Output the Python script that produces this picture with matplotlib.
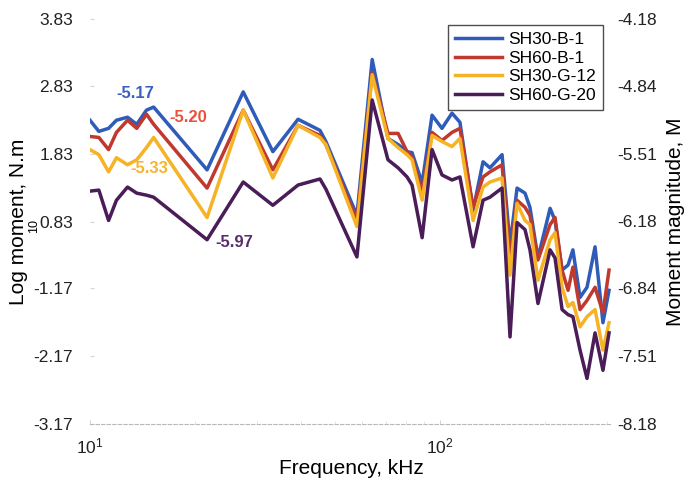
import numpy as np
import matplotlib
matplotlib.use('Agg')
import matplotlib.pyplot as plt

plt.rcParams['font.family'] = ['Liberation Sans', 'DejaVu Sans']
plt.rcParams['mathtext.fontset'] = 'custom'
plt.rcParams['mathtext.rm'] = 'Liberation Sans'
plt.rcParams['mathtext.it'] = 'Liberation Sans:italic'

# frequency (kHz) of each vertex
freq = [10.0, 10.6, 11.3, 11.9, 12.8, 13.6, 14.5, 15.2, 21.6, 27.4,
        33.3, 39.3, 45.4, 47.2, 57.9, 64.0, 71.0, 75.9, 80.5, 83.2,
        88.9, 94.9, 101.3, 108.2, 114.0, 124.3, 132.7, 138.9, 150.4, 158.5,
        166.0, 174.9, 180.7, 190.5, 206.3, 213.1, 223.2, 232.2, 239.7, 251.2,
        263.0, 277.3, 292.1, 304.0]

# moment magnitude M for each series
sh30_b1 = [-5.18, -5.29, -5.26, -5.18, -5.15, -5.22, -5.08, -5.05, -5.67, -4.90,
           -5.49, -5.17, -5.28, -5.39, -6.12, -4.58, -5.36, -5.42, -5.49, -5.50,
           -5.80, -5.13, -5.26, -5.11, -5.20, -6.07, -5.59, -5.65, -5.52, -6.41,
           -5.85, -5.90, -6.04, -6.54, -6.05, -6.17, -6.66, -6.61, -6.46, -6.93,
           -6.83, -6.43, -7.18, -6.86]
sh60_b1 = [-5.34, -5.35, -5.47, -5.30, -5.18, -5.26, -5.12, -5.22, -5.85, -5.08,
           -5.67, -5.23, -5.33, -5.42, -6.17, -4.71, -5.31, -5.31, -5.49, -5.54,
           -5.90, -5.30, -5.38, -5.30, -5.26, -6.04, -5.74, -5.69, -5.62, -6.54,
           -5.97, -6.04, -6.12, -6.56, -6.21, -6.14, -6.66, -6.86, -6.63, -7.05,
           -6.96, -6.83, -7.08, -6.66]
sh30_g12 = [-5.47, -5.52, -5.69, -5.55, -5.62, -5.57, -5.45, -5.35, -6.14, -5.08,
            -5.75, -5.23, -5.35, -5.42, -6.23, -4.73, -5.36, -5.45, -5.52, -5.57,
            -5.97, -5.33, -5.39, -5.44, -5.36, -6.17, -5.84, -5.79, -5.75, -6.71,
            -6.00, -6.17, -6.21, -6.76, -6.36, -6.29, -6.83, -7.02, -6.98, -7.22,
            -7.12, -7.05, -7.45, -7.18]
sh60_g20 = [-5.88, -5.87, -6.17, -5.97, -5.84, -5.90, -5.92, -5.94, -6.36, -5.79,
            -6.02, -5.82, -5.76, -5.86, -6.53, -4.98, -5.57, -5.65, -5.74, -5.82,
            -6.34, -5.47, -5.72, -5.77, -5.74, -6.43, -5.97, -5.94, -5.85, -7.32,
            -6.19, -6.26, -6.46, -6.99, -6.46, -6.54, -7.05, -7.10, -7.12, -7.45,
            -7.73, -7.28, -7.65, -7.28]

series_names = ['SH30-B-1', 'SH60-B-1', 'SH30-G-12', 'SH60-G-20']
line_colors = ['#2e5cb8', '#c0392e', '#f5b325', '#4a1d58']

# annotated values
note_text = ['-5.17', '-5.20', '-5.33', '-5.97']
note_freq = [13.45, 19.05, 14.74, 25.9]
note_m = [-4.92, -5.15, -5.66, -6.39]
note_colors = ['#3b5fc2', '#e8503f', '#f5b52e', '#5b2d6b']

right_ticks = [-4.18, -4.84, -5.51, -6.18, -6.84, -7.51, -8.18]
left_labels = ['3.83', '2.83', '1.83', '0.83', '-1.17', '-2.17', '-3.17']

fig = plt.figure(figsize=(6.84, 4.83), dpi=100)
ax = fig.add_axes([90/684, 59/483, 522/684, 405/483])

for vals, name, c in zip([sh30_b1, sh60_b1, sh30_g12, sh60_g20], series_names, line_colors):
    ax.plot(freq, vals, color=c, lw=2.5, label=name)

for t, fx, fy, c in zip(note_text, note_freq, note_m, note_colors):
    ax.text(fx, fy, t, color=c, fontsize=12, fontweight='bold', ha='center', va='center')

ax.set_xscale('log')
ax.set_xlim(10, 310)
ax.set_ylim(-8.18, -4.18)
ax.set_xticks([10, 100])

ax.set_yticks(right_ticks)
ax.set_yticklabels(left_labels)
ax.tick_params(axis='y', labelsize=12.5, length=3, color='#d5d5d5', direction='in', pad=12, labelcolor='#222222')
ax.tick_params(axis='x', which='major', labelsize=12.5, length=3, color='#d5d5d5', direction='in', pad=9, labelcolor='#222222')
ax.tick_params(axis='x', which='minor', length=2, color='#e0e0e0', direction='in')

for s in ['top', 'left', 'right']:
    ax.spines[s].set_visible(False)
ax.spines['bottom'].set_color('#b8b8b8')
ax.spines['bottom'].set_linewidth(0.8)
ax.spines['bottom'].set_linestyle((0, (3, 2)))

ax.set_xlabel('Frequency, kHz', fontsize=15, labelpad=2)
ax.set_ylabel('Log moment, N.m', fontsize=15, labelpad=4)
fig.text(34/684, 1 - 226/483, '10', fontsize=9, rotation=90, ha='center', va='center')

ax2 = ax.twinx()
ax2.set_ylim(-8.18, -4.18)
ax2.set_yticks(right_ticks)
ax2.set_yticklabels(['%.2f' % v for v in right_ticks])
ax2.tick_params(axis='y', labelsize=12.5, length=0, pad=4, labelcolor='#222222')
for s in ['top', 'left', 'right', 'bottom']:
    ax2.spines[s].set_visible(False)
ax2.set_ylabel('Moment magnitude, M', fontsize=15, labelpad=6)

leg = ax.legend(loc='upper right', bbox_to_anchor=(603/684, 1 - 25/483), bbox_transform=fig.transFigure,
                fontsize=12.5, frameon=True, fancybox=False, handlelength=2.7, handletextpad=0.35,
                labelspacing=0.2, borderpad=0.4, borderaxespad=0)
leg.get_frame().set_edgecolor('#222222')
leg.get_frame().set_linewidth(1.0)
for h in leg.get_lines():
    h.set_linewidth(2.5)

fig.savefig('out.png', dpi=100)
